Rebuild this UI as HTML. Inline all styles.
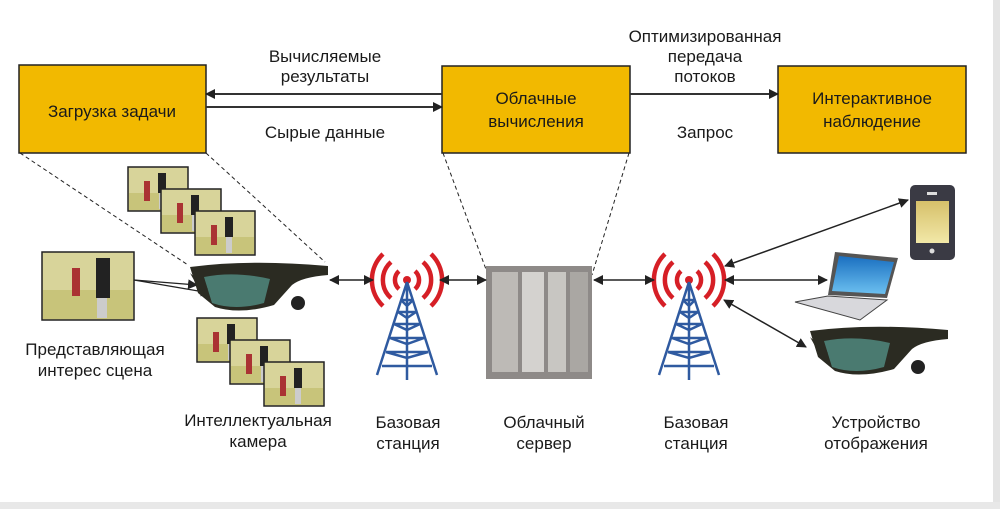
<!DOCTYPE html>
<html><head><meta charset="utf-8"><style>
html,body{margin:0;padding:0;background:#fff;}
svg{display:block;}
text{font-family:"Liberation Sans",sans-serif;font-size:17px;fill:#1a1a1a;text-anchor:middle;}
</style></head><body>
<svg width="1000" height="509" viewBox="0 0 1000 509" xmlns="http://www.w3.org/2000/svg">
<defs>
<marker id="a" markerWidth="10" markerHeight="10" refX="9" refY="5" orient="auto-start-reverse" markerUnits="userSpaceOnUse"><path d="M0,0 L10,5 L0,10 z" fill="#222"/></marker>
<linearGradient id="scr" x1="0" y1="0" x2="0" y2="1"><stop offset="0" stop-color="#d6c06a"/><stop offset="1" stop-color="#f2e8a8"/></linearGradient>
<linearGradient id="lap" x1="0" y1="0" x2="0" y2="1"><stop offset="0" stop-color="#1a6fc0"/><stop offset="1" stop-color="#6cc0f0"/></linearGradient>
<g id="frame"><rect width="60" height="44" fill="#d8d49a" stroke="#222" stroke-width="1.5"/><rect x="1" y="26" width="58" height="17" fill="#c8c47a"/><rect x="30" y="6" width="8" height="20" fill="#222"/><rect x="31" y="26" width="6" height="16" fill="#ccc"/><rect x="16" y="14" width="6" height="20" fill="#a33"/></g>
<g id="glasses"><path d="M0,4 Q60,-4 138,3 L138,12 Q112,14 102,22 L84,42 Q50,52 25,44 L8,30 Z" fill="#2b2b22"/><path d="M14,14 Q45,8 80,16 L74,40 Q45,48 22,40 Z" fill="#4a7a70"/><path d="M0,10 L10,28 L18,26 Z" fill="#2b2b22"/><circle cx="108" cy="40" r="7" fill="#222"/></g>
<g id="tower"><path d="M-16,-18 a24,24 0 0 0 0,36 M16,-18 a24,24 0 0 1 0,36 M-24,-26 a36,36 0 0 0 0,52 M24,-26 a36,36 0 0 1 0,52 M-8,-9 a12,12 0 0 0 0,18 M8,-9 a12,12 0 0 1 0,18" fill="none" stroke="#d61f26" stroke-width="4.5"/><circle cx="0" cy="0" r="4" fill="#d61f26"/><path d="M0,2 L-30,95 M0,2 L30,95 M0,2 L0,100 M-6,20 L6,20 M-9,32 L9,32 M-13,44 L13,44 M-17,58 L17,58 M-21,72 L21,72 M-25,86 L25,86 M-6,20 L0,26 L6,20 M-9,32 L0,38 L9,32 M-13,44 L0,50 L13,44 M-17,58 L0,64 L17,58 M-21,72 L0,78 L21,72" fill="none" stroke="#2f5aa0" stroke-width="2.5"/></g>
</defs>
<rect x="993" y="0" width="7" height="509" fill="#e4e4e4"/>
<rect x="0" y="502" width="1000" height="7" fill="#e8e8e8"/>
<rect x="19" y="65" width="187" height="88" fill="#f2b900" stroke="#222" stroke-width="1.5"/>
<rect x="442" y="66" width="188" height="87" fill="#f2b900" stroke="#222" stroke-width="1.5"/>
<rect x="778" y="66" width="188" height="87" fill="#f2b900" stroke="#222" stroke-width="1.5"/>
<text x="112" y="117">Загрузка задачи</text>
<text x="536" y="104">Облачные</text><text x="536" y="127">вычисления</text>
<text x="872" y="104">Интерактивное</text><text x="872" y="127">наблюдение</text>
<line x1="206" y1="94" x2="442" y2="94" stroke="#333" stroke-width="2" marker-start="url(#a)"/>
<line x1="206" y1="107" x2="442" y2="107" stroke="#333" stroke-width="2" marker-end="url(#a)"/>
<line x1="630" y1="94" x2="778" y2="94" stroke="#333" stroke-width="2" marker-end="url(#a)"/>
<text x="325" y="62">Вычисляемые</text><text x="325" y="82">результаты</text>
<text x="325" y="138">Сырые данные</text>
<text x="705" y="42">Оптимизированная</text><text x="705" y="62">передача</text><text x="705" y="82">потоков</text>
<text x="705" y="138">Запрос</text>
<g stroke="#222" stroke-width="1" stroke-dasharray="4,3" fill="none">
<line x1="20" y1="153" x2="188" y2="265"/><line x1="206" y1="153" x2="325" y2="262"/>
<line x1="443" y1="153" x2="487" y2="272"/><line x1="629" y1="153" x2="592" y2="275"/>
</g>
<use href="#frame" x="128" y="167"/><use href="#frame" x="161" y="189"/><use href="#frame" x="195" y="211"/>
<use href="#frame" x="197" y="318"/><use href="#frame" x="230" y="340"/><use href="#frame" x="264" y="362"/>
<rect x="42" y="252" width="92" height="68" fill="#d8d49a" stroke="#222" stroke-width="1.5"/>
<rect x="43" y="290" width="90" height="29" fill="#c8c47a"/><rect x="96" y="258" width="14" height="40" fill="#222"/><rect x="97" y="298" width="10" height="20" fill="#ccc"/><rect x="72" y="268" width="8" height="28" fill="#a33"/>
<line x1="134" y1="280" x2="197" y2="285" stroke="#222" stroke-width="1.2" marker-end="url(#a)"/>
<line x1="134" y1="280" x2="210" y2="293" stroke="#222" stroke-width="1.2" marker-end="url(#a)"/>
<use href="#glasses" x="190" y="263"/>
<use href="#glasses" x="810" y="327"/>
<use href="#tower" x="407" y="280"/>
<use href="#tower" x="689" y="280"/>
<rect x="486" y="266" width="106" height="113" fill="#8e8a88"/>
<rect x="492" y="272" width="26" height="100" fill="#bdbab6"/><rect x="522" y="272" width="22" height="100" fill="#d4d2cf"/><rect x="548" y="272" width="18" height="100" fill="#c8c6c2"/><rect x="570" y="272" width="18" height="100" fill="#aaa7a3"/>
<g stroke="#222" stroke-width="1.5">
<line x1="330" y1="280" x2="373" y2="280" marker-start="url(#a)" marker-end="url(#a)"/>
<line x1="440" y1="280" x2="486" y2="280" marker-start="url(#a)" marker-end="url(#a)"/>
<line x1="594" y1="280" x2="654" y2="280" marker-start="url(#a)" marker-end="url(#a)"/>
<line x1="725" y1="280" x2="827" y2="280" marker-start="url(#a)" marker-end="url(#a)"/>
<line x1="725" y1="266" x2="908" y2="200" marker-start="url(#a)" marker-end="url(#a)"/>
<line x1="724" y1="300" x2="806" y2="347" marker-start="url(#a)" marker-end="url(#a)"/>
</g>
<rect x="910" y="185" width="45" height="75" rx="5" fill="#3a3a44"/><rect x="916" y="201" width="33" height="42" fill="url(#scr)"/><circle cx="932" cy="251" r="2.5" fill="#ddd"/><rect x="927" y="192" width="10" height="3" fill="#ddd"/>
<path d="M835,252 L898,258 L887,298 L828,295 Z" fill="#555"/><path d="M839,256 L894,262 L885,294 L832,291 Z" fill="url(#lap)"/>
<path d="M795,302 L828,296 L887,300 L860,320 Z" fill="#d8d8dc" stroke="#444" stroke-width="1"/>
<text x="95" y="355">Представляющая</text><text x="95" y="376">интерес сцена</text>
<text x="258" y="426">Интеллектуальная</text><text x="258" y="447">камера</text>
<text x="408" y="428">Базовая</text><text x="408" y="449">станция</text>
<text x="544" y="428">Облачный</text><text x="544" y="449">сервер</text>
<text x="696" y="428">Базовая</text><text x="696" y="449">станция</text>
<text x="876" y="428">Устройство</text><text x="876" y="449">отображения</text>
</svg>
</body></html>
